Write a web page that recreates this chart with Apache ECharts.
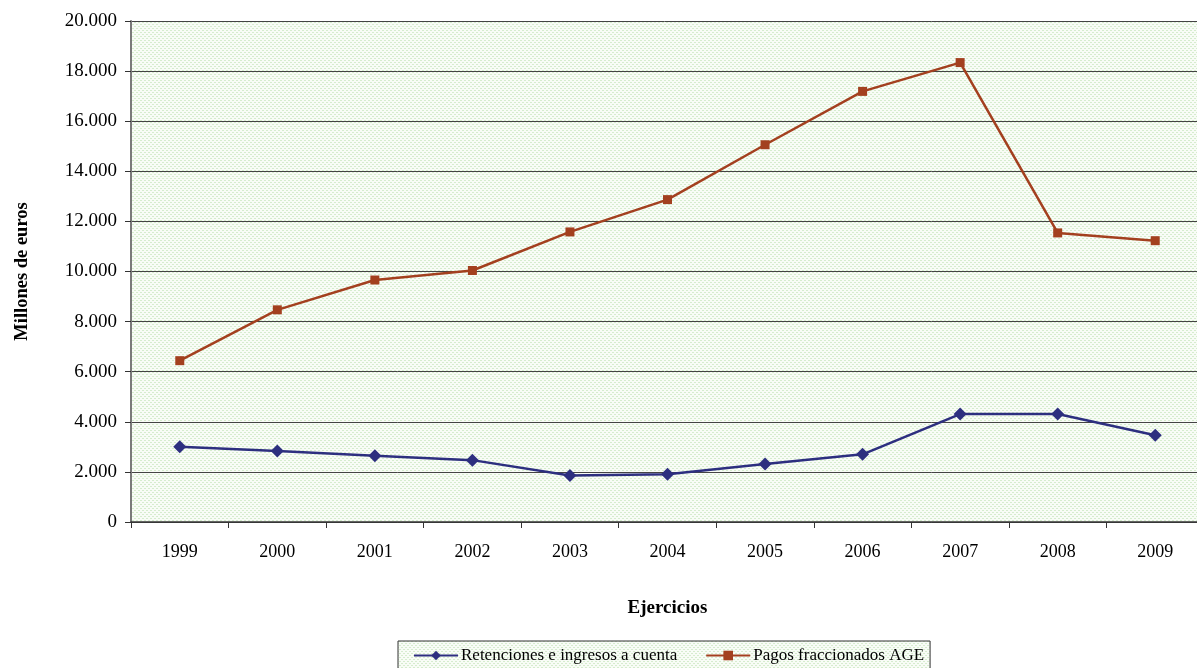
<!DOCTYPE html>
<html><head><meta charset="utf-8">
<script src="https://cdn.jsdelivr.net/npm/echarts@6/dist/echarts.min.js"></script>
<style>html,body{margin:0;padding:0;background:#fff;}#c{width:1197px;height:668px;}</style>
</head><body><div id="c"></div>
<script>
const years = ['1999','2000','2001','2002','2003','2004','2005','2006','2007','2008','2009'];
const retenciones = [3000, 2830, 2640, 2470, 1860, 1910, 2320, 2700, 4310, 4310, 3460];
const pagos = [6440, 8470, 9660, 10040, 11580, 12870, 15060, 17190, 18340, 11540, 11230];
const seriesNames = ['Retenciones e ingresos a cuenta', 'Pagos fraccionados AGE'];

function makePattern(){
  const c = document.createElement('canvas');
  c.width = 4; c.height = 4;
  const g = c.getContext('2d');
  g.fillStyle = '#f8fcf6'; g.fillRect(0,0,4,4);
  g.fillStyle = '#d6ecce';
  g.fillRect(0,0,2,1); g.fillRect(2,2,2,1);
  return {image: c, repeat: 'repeat'};
}
const FONT = '"Liberation Serif", "Times New Roman", serif';
const chart = echarts.init(document.getElementById('c'), null, {renderer:'canvas'});
chart.setOption({
  animation: false,
  backgroundColor: '#ffffff',
  textStyle: {fontFamily: FONT, color: '#000'},
  grid: {left: 131, top: 21, width: 1073, bottom: 146, show: true, outerBoundsMode: 'none', containLabel: false,
         backgroundColor: makePattern(), borderWidth: 0},
  xAxis: {
    type: 'category', data: years, boundaryGap: true,
    name: 'Ejercicios', nameLocation: 'middle', nameGap: 77,
    nameTextStyle: {fontFamily: FONT, fontWeight: 'bold', fontSize: 19, color: '#000'},
    axisLine: {lineStyle: {color: '#333', width: 1.5}},
    axisTick: {show: true, length: 6, lineStyle: {color: '#333'}},
    axisLabel: {fontFamily: FONT, fontSize: 18, color: '#000', margin: 21}
  },
  yAxis: {
    type: 'value', min: 0, max: 20000, interval: 2000,
    name: 'Millones de euros', nameLocation: 'middle', nameGap: 99, nameRotate: 90,
    nameTextStyle: {fontFamily: FONT, fontWeight: 'bold', fontSize: 18.5, color: '#000'},
    axisLine: {show: true, lineStyle: {color: '#7a7a7a', width: 2}},
    axisTick: {show: true, length: 6, lineStyle: {color: '#333'}},
    axisLabel: {fontFamily: FONT, fontSize: 19, color: '#000', margin: 14,
      formatter: v => v === 0 ? '0' : (v/1000).toFixed(3)},
    splitLine: {show: true, lineStyle: {color: '#444', width: 1}}
  },
  legend: {
    left: 398, top: 641,
    padding: [6, 6, 20, 15],
    borderColor: '#333', borderWidth: 1,
    backgroundColor: makePattern(),
    itemWidth: 44, itemHeight: 12, itemGap: 28,
    textStyle: {fontFamily: FONT, fontSize: 17, color: '#000', padding: [0, 0, 0, -2]},
    data: seriesNames
  },
  series: [
    {name: seriesNames[0], type: 'line', data: retenciones,
     symbol: 'diamond', symbolSize: 13, showAllSymbol: true,
     lineStyle: {color: '#2d2f7f', width: 2.5}, itemStyle: {color: '#2d2f7f'}},
    {name: seriesNames[1], type: 'line', data: pagos,
     symbol: 'rect', symbolSize: 9, showAllSymbol: true,
     lineStyle: {color: '#a3401f', width: 2.5}, itemStyle: {color: '#a3401f'}}
  ]
});
</script></body></html>
